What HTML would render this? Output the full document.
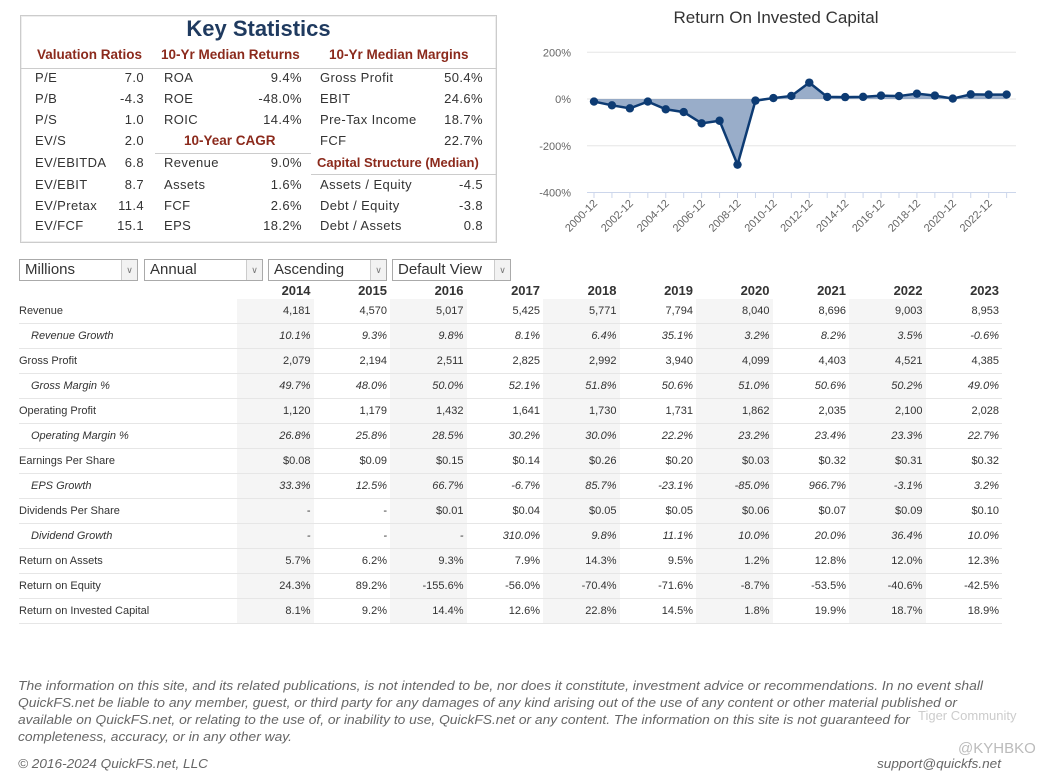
<!DOCTYPE html>
<html><head><meta charset="utf-8">
<style>
body{margin:0;width:1037px;height:772px;background:#fff;font-family:"Liberation Sans","DejaVu Sans",sans-serif;position:relative;overflow:hidden;color:#333}
.ks{position:absolute;left:20px;top:15px;width:475px;height:226px;border:1px solid #ccc;box-shadow:0 0 0 1px #eee inset;background:#fff}
.ks .title{position:absolute;left:0;width:100%;top:0;text-align:center;font-size:22px;font-weight:bold;color:#1f3a5f}
.h{position:absolute;font-size:13.5px;font-weight:bold;color:#8b2a1c;white-space:nowrap}
.r{position:absolute;font-size:13px;color:#333;letter-spacing:0.4px;white-space:nowrap}
.v{text-align:right}
.sel{position:absolute;top:259px;height:22px;border:1px solid #aaa;box-sizing:border-box;font-size:15px;padding-left:5px;line-height:20px;color:#333}
.sel span{position:absolute;right:0;top:0;width:15px;height:20px;border-left:1px solid #ccc;background:#f2f2f2;font-size:9px;text-align:center;color:#777}
table{position:absolute;left:19px;top:282px;border-collapse:collapse;font-size:11px;table-layout:fixed;width:983px}
td{height:24px;border-bottom:1px solid #e6e6e6;padding:0 3px;text-align:right;overflow:hidden;white-space:nowrap}
td.l{text-align:left;padding-left:0}
tr.it td{font-style:italic}
tr.it td.l{padding-left:12px}
th{font-size:13px;font-weight:bold;text-align:right;padding:0 3px;height:17px}
td.s{background:#f5f5f5}
.foot{position:absolute;left:0;top:676px}
</style></head><body>
<div class="ks">
<div class="title">Key Statistics</div>
<div class="h" style="left:16px;top:31px">Valuation Ratios</div>
<div class="h" style="left:140px;top:31px">10-Yr Median Returns</div>
<div class="h" style="left:308px;top:31px">10-Yr Median Margins</div>
<div style="position:absolute;left:0;top:52px;width:475px;border-top:1px solid #ccc"></div>
<div style="position:absolute;left:134px;top:137px;width:156px;border-top:1px solid #ccc"></div>
<div style="position:absolute;left:290px;top:158px;width:185px;border-top:1px solid #ccc"></div>
<div class="h" style="left:163px;top:117px">10-Year CAGR</div>
<div class="h" style="left:296px;top:139px;font-size:13px">Capital Structure (Median)</div>
<div id="ksrows"></div>
</div>

<svg style="position:absolute;left:0;top:0" width="1037" height="250">
<text x="776" y="23" text-anchor="middle" font-size="17" fill="#333">Return On Invested Capital</text>
<g id="grid"></g><g id="area"></g><g id="pts"></g><g id="xl"></g>
</svg>

<div class="sel" style="left:19px;width:119px">Millions<span>&#8744;</span></div>
<div class="sel" style="left:144px;width:119px">Annual<span>&#8744;</span></div>
<div class="sel" style="left:268px;width:119px">Ascending<span>&#8744;</span></div>
<div class="sel" style="left:392px;width:119px">Default View<span>&#8744;</span></div>

<table id="tbl"></table>

<svg class="foot" width="1037" height="96">
<g font-style="italic" font-size="12.5" fill="#666">
<text x="18" y="14" textLength="965" lengthAdjust="spacingAndGlyphs">The information on this site, and its related publications, is not intended to be, nor does it constitute, investment advice or recommendations. In no event shall</text>
<text x="18" y="31" textLength="939" lengthAdjust="spacingAndGlyphs">QuickFS.net be liable to any member, guest, or third party for any damages of any kind arising out of the use of any content or other material published or</text>
<text x="18" y="48" textLength="892" lengthAdjust="spacingAndGlyphs">available on QuickFS.net, or relating to the use of, or inability to use, QuickFS.net or any content. The information on this site is not guaranteed for</text>
<text x="18" y="65" textLength="274" lengthAdjust="spacingAndGlyphs">completeness, accuracy, or in any other way.</text>
<text x="18" y="92" textLength="190" lengthAdjust="spacingAndGlyphs">© 2016-2024 QuickFS.net, LLC</text>
<text x="877" y="92" textLength="124" lengthAdjust="spacingAndGlyphs">support@quickfs.net</text>
</g>
<text x="918" y="44" font-size="13" fill="#ccc">Tiger Community</text>
<text x="958" y="77" font-size="15" fill="#bbb">@KYHBKO</text>
</svg>

<script>
const ksCol1=[["P/E","7.0"],["P/B","-4.3"],["P/S","1.0"],["EV/S","2.0"],["EV/EBITDA","6.8"],["EV/EBIT","8.7"],["EV/Pretax","11.4"],["EV/FCF","15.1"]];
const ksCol2=[["ROA","9.4%",0],["ROE","-48.0%",1],["ROIC","14.4%",2],["Revenue","9.0%",4],["Assets","1.6%",5],["FCF","2.6%",6],["EPS","18.2%",7]];
const ksCol3=[["Gross Profit","50.4%",0],["EBIT","24.6%",1],["Pre-Tax Income","18.7%",2],["FCF","22.7%",3],["Assets / Equity","-4.5",5],["Debt / Equity","-3.8",6],["Debt / Assets","0.8",7]];
const rowY=[62,83,104,125,147,169,190,210];
const ks=document.getElementById('ksrows');
function addKs(lbl,val,x1,x2,y){
 const a=document.createElement('div');a.className='r';a.style.left=x1+'px';a.style.top=(y-8)+'px';a.textContent=lbl;
 
 
 ks.appendChild(a);
 const b=document.createElement('div');b.className='r v';b.style.right=(475-x2)+'px';b.style.top=(y-8)+'px';b.textContent=val;
 
 
 ks.appendChild(b);
}
ksCol1.forEach((d,i)=>addKs(d[0],d[1],14,123,rowY[i]));
ksCol2.forEach(d=>addKs(d[0],d[1],143,281,rowY[d[2]]));
ksCol3.forEach(d=>addKs(d[0],d[1],299,462,rowY[d[2]]));

const years=["2000-12","2001-12","2002-12","2003-12","2004-12","2005-12","2006-12","2007-12","2008-12","2009-12","2010-12","2011-12","2012-12","2013-12","2014-12","2015-12","2016-12","2017-12","2018-12","2019-12","2020-12","2021-12","2022-12","2023-12"];
const roic=[-11,-27,-40,-11,-44,-56,-104,-93,-281,-7,4,13,70,9,8.1,9.2,14.4,12.6,22.8,14.5,1.8,19.9,18.7,18.9];
const yTicks=[200,0,-200,-400];
const X=i=>594+i*17.94;
const Y=v=>99-v*(46.75/200);
const NS='http://www.w3.org/2000/svg';
function mk(t,at,par){const e=document.createElementNS(NS,t);for(const k in at)e.setAttribute(k,at[k]);par.appendChild(e);return e;}
const grid=document.getElementById('grid');
yTicks.forEach(t=>{
 const l=mk('line',{x1:587,x2:1016,y1:Y(t),y2:Y(t),stroke:t===-400?'#ccd6eb':'#e6e6e6'},grid);
 
 
 const tx=mk('text',{x:571,y:Y(t)+4,'text-anchor':'end','font-size':11,fill:'#666'},grid);tx.textContent=t+'%';
 
 
});
let d='M'+X(0)+','+Y(0);roic.forEach((v,i)=>d+=' L'+X(i)+','+Y(v));d+=' L'+X(roic.length-1)+','+Y(0)+'Z';
const ar=mk('path',{d:d,fill:'#7f98bb',opacity:0.8},document.getElementById('area'));


let ld='';roic.forEach((v,i)=>ld+=(i?' L':'M')+X(i)+','+Y(v));
const ln=mk('path',{d:ld,fill:'none',stroke:'#0d3b73','stroke-width':2.5},document.getElementById('pts'));


roic.forEach((v,i)=>{const c=mk('circle',{cx:X(i),cy:Y(v),r:4.2,fill:'#0d3b73'},document.getElementById('pts'));
 
 });
const xl=document.getElementById('xl');
years.forEach((y,i)=>{
 mk('line',{x1:X(i),x2:X(i),y1:192,y2:198,stroke:'#ccd6eb'},xl);
 if(i%2)return;
 const t=mk('text',{x:X(i)+4,y:204,'text-anchor':'end','font-size':11,fill:'#666',transform:`rotate(-45 ${X(i)+4} 204)`},xl);t.textContent=y;
 
 
});

const cols=["2014","2015","2016","2017","2018","2019","2020","2021","2022","2023"];
const rowLabels=["Revenue","Revenue Growth","Gross Profit","Gross Margin %","Operating Profit","Operating Margin %","Earnings Per Share","EPS Growth","Dividends Per Share","Dividend Growth","Return on Assets","Return on Equity","Return on Invested Capital"];
const italicRows=[1,3,5,7,9];
const revenue=["4,181","4,570","5,017","5,425","5,771","7,794","8,040","8,696","9,003","8,953"];
const revGrowth=["10.1%","9.3%","9.8%","8.1%","6.4%","35.1%","3.2%","8.2%","3.5%","-0.6%"];
const grossProfit=["2,079","2,194","2,511","2,825","2,992","3,940","4,099","4,403","4,521","4,385"];
const grossMargin=["49.7%","48.0%","50.0%","52.1%","51.8%","50.6%","51.0%","50.6%","50.2%","49.0%"];
const opProfit=["1,120","1,179","1,432","1,641","1,730","1,731","1,862","2,035","2,100","2,028"];
const opMargin=["26.8%","25.8%","28.5%","30.2%","30.0%","22.2%","23.2%","23.4%","23.3%","22.7%"];
const eps=["$0.08","$0.09","$0.15","$0.14","$0.26","$0.20","$0.03","$0.32","$0.31","$0.32"];
const epsGrowth=["33.3%","12.5%","66.7%","-6.7%","85.7%","-23.1%","-85.0%","966.7%","-3.1%","3.2%"];
const dps=["-","-","$0.01","$0.04","$0.05","$0.05","$0.06","$0.07","$0.09","$0.10"];
const divGrowth=["-","-","-","310.0%","9.8%","11.1%","10.0%","20.0%","36.4%","10.0%"];
const roa=["5.7%","6.2%","9.3%","7.9%","14.3%","9.5%","1.2%","12.8%","12.0%","12.3%"];
const roe=["24.3%","89.2%","-155.6%","-56.0%","-70.4%","-71.6%","-8.7%","-53.5%","-40.6%","-42.5%"];
const roicRow=["8.1%","9.2%","14.4%","12.6%","22.8%","14.5%","1.8%","19.9%","18.7%","18.9%"];
const rowsData=[revenue,revGrowth,grossProfit,grossMargin,opProfit,opMargin,eps,epsGrowth,dps,divGrowth,roa,roe,roicRow];
const tbl=document.getElementById('tbl');
let h='<colgroup><col style="width:218px">'+cols.map(()=>'<col style="width:76.5px">').join('')+'</colgroup>';
h+='<tr><th style="text-align:left"></th>'+cols.map(c=>`<th>${c}</th>`).join('')+'</tr>';
rowsData.forEach((r,ri)=>{
 h+=`<tr class="${italicRows.includes(ri)?'it':''}"><td class="l">${rowLabels[ri]}</td>`+r.map((v,ci)=>`<td class="${ci%2===0?'s':''}">${v}</td>`).join('')+'</tr>';
});
tbl.innerHTML=h;
</script>
</body></html>
